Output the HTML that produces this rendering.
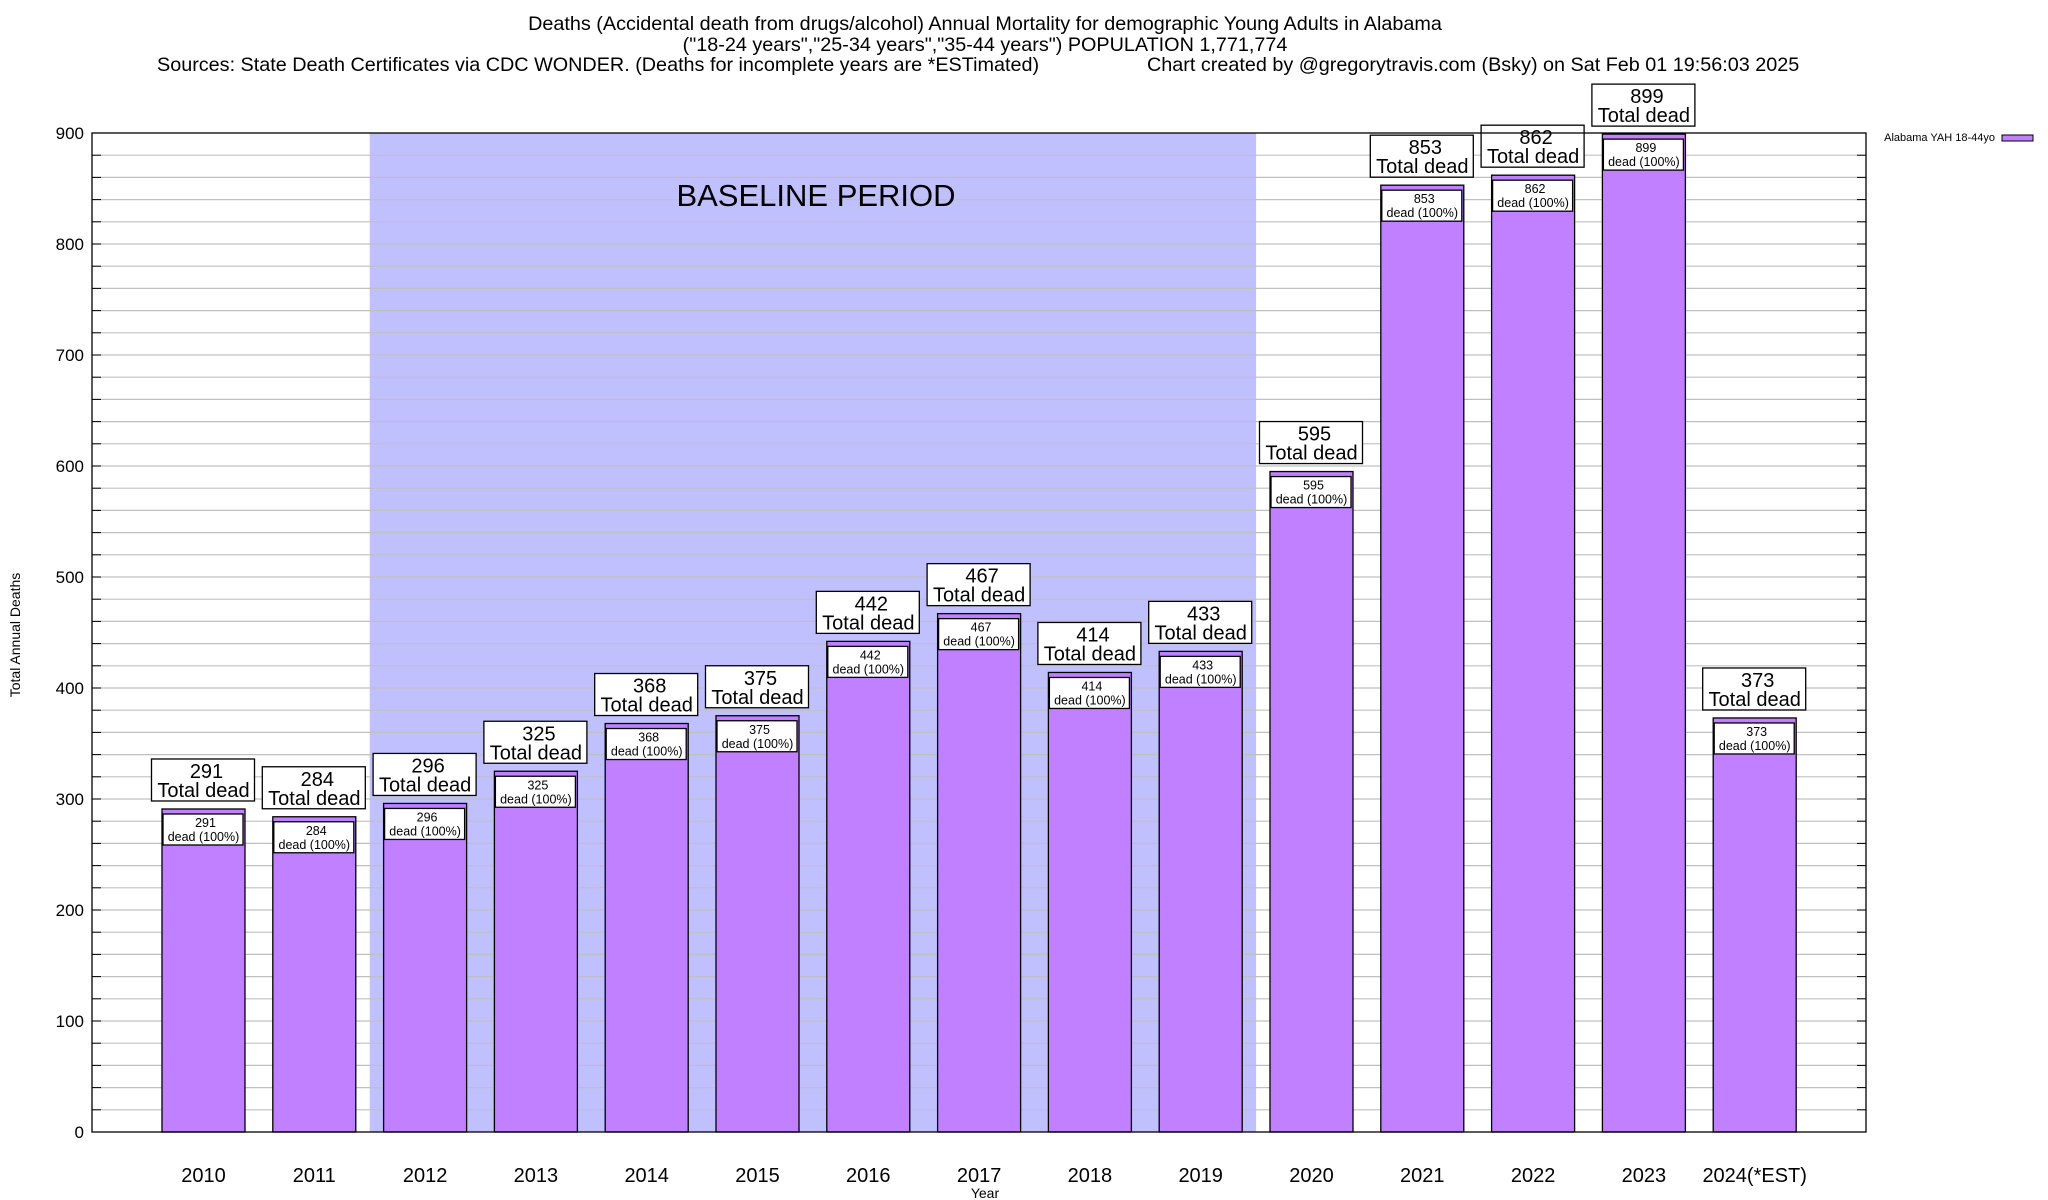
<!DOCTYPE html>
<html><head><meta charset="utf-8">
<style>
html,body{margin:0;padding:0;background:#fff;}
svg{display:block;font-family:"Liberation Sans",sans-serif;}
</style></head>
<body>
<svg id="chart" width="2048" height="1200" viewBox="0 0 2048 1200" xmlns="http://www.w3.org/2000/svg">
<g font-size="19.8" fill="#000">
<text x="985" y="30" text-anchor="middle">Deaths (Accidental death from drugs/alcohol) Annual Mortality for demographic Young Adults in Alabama</text>
<text x="985" y="51" text-anchor="middle">("18-24 years","25-34 years","35-44 years") POPULATION 1,771,774</text>
<text x="157" y="71">Sources: State Death Certificates via CDC WONDER. (Deaths for incomplete years are *ESTimated)</text>
<text x="1147" y="71">Chart created by @gregorytravis.com (Bsky) on Sat Feb 01 19:56:03 2025</text>
</g>
<g id="plot"></g>
</svg>
<script>
const years = ["2010","2011","2012","2013","2014","2015","2016","2017","2018","2019","2020","2021","2022","2023","2024(*EST)"];
const deaths = [291,284,296,325,368,375,442,467,414,433,595,853,862,899,373];
const yTicks = [0,100,200,300,400,500,600,700,800,900];
const baselineStart = 2, baselineEnd = 9;

const NS = "http://www.w3.org/2000/svg";
const L = 92, R = 1866, T = 133, B = 1132;
const yMax = 900;
function yScale(v){ return B - (v / yMax) * (B - T); }
const x0 = 203.5, step = 110.8;
function xScale(i){ return x0 + step * i; }
const barW = 83;

const g = document.getElementById('plot');
function el(tag, attrs, parent){
  const e = document.createElementNS(NS, tag);
  for (const k in attrs) e.setAttribute(k, attrs[k]);
  (parent || g).appendChild(e);
  return e;
}

const shade = el('rect', {x: xScale(baselineStart) - step/2, y: T, width: (baselineEnd - baselineStart + 1) * step, height: B - T, fill: '#c0c0ff'});



for (let v = 20; v < yMax; v += 20) {
  const gl = el('line', {x1: L, x2: R, y1: yScale(v), y2: yScale(v), stroke: '#c0c0c0', 'stroke-width': 1.2});
  
  
  el('line', {x1: L, x2: L + 9, y1: yScale(v), y2: yScale(v), stroke: '#000', 'stroke-width': 1});
  el('line', {x1: R - 9, x2: R, y1: yScale(v), y2: yScale(v), stroke: '#000', 'stroke-width': 1});
}

const bl = el('text', {x: 816, y: 206, 'font-size': 31, 'text-anchor': 'middle'});
bl.textContent = 'BASELINE PERIOD';



yTicks.forEach(v => {
  const t = el('text', {x: 84, y: yScale(v) + 6, 'font-size': 17, 'text-anchor': 'end'});
  t.textContent = v;
  
  
});

deaths.forEach((d, i) => {
  const cx = xScale(i), top = yScale(d);
  const bar = el('rect', {x: cx - barW/2, y: top, width: barW, height: B - top, fill: '#c080ff', stroke: '#000', 'stroke-width': 1.3});
  
  
  const ib = el('rect', {x: cx - barW/2 + 1, y: top + 5, width: barW - 3, height: 31, fill: '#fff', stroke: '#000', 'stroke-width': 1.3});
  
  
  const t1 = el('text', {x: cx + 2, y: top + 18, 'font-size': 12.5, 'text-anchor': 'middle'});
  t1.textContent = d;
  
  
  const t2 = el('text', {x: cx, y: top + 32, 'font-size': 12.5, 'text-anchor': 'middle'});
  t2.textContent = 'dead (100%)';
  
  
  const ob = el('rect', {x: cx - 52, y: top - 50, width: 103, height: 42, fill: '#fff', stroke: '#000', 'stroke-width': 1.3});
  
  
  const t3 = el('text', {x: cx + 3, y: top - 31, 'font-size': 20, 'text-anchor': 'middle'});
  t3.textContent = d;
  
  
  const t4 = el('text', {x: cx, y: top - 12, 'font-size': 20, 'text-anchor': 'middle'});
  t4.textContent = 'Total dead';
  
  
  const xl = el('text', {x: cx, y: 1182, 'font-size': 20, 'text-anchor': 'middle'});
  xl.textContent = years[i];
  
  
});

const fr = el('rect', {x: L, y: T, width: R - L, height: B - T, fill: 'none', stroke: '#000', 'stroke-width': 1.3});



const yt = el('text', {x: 0, y: 0, 'font-size': 14, 'text-anchor': 'middle', transform: 'translate(20,635) rotate(-90)'});
yt.textContent = 'Total Annual Deaths';


const xt = el('text', {x: 985, y: 1198, 'font-size': 14, 'text-anchor': 'middle'});
xt.textContent = 'Year';



const lg = el('text', {x: 1995, y: 141, 'font-size': 11, 'text-anchor': 'end'});
lg.textContent = 'Alabama YAH 18-44yo';


const sw = el('rect', {x: 2002, y: 135, width: 31, height: 6, fill: '#c080ff', stroke: '#000', 'stroke-width': 1});


</script>
</body></html>
